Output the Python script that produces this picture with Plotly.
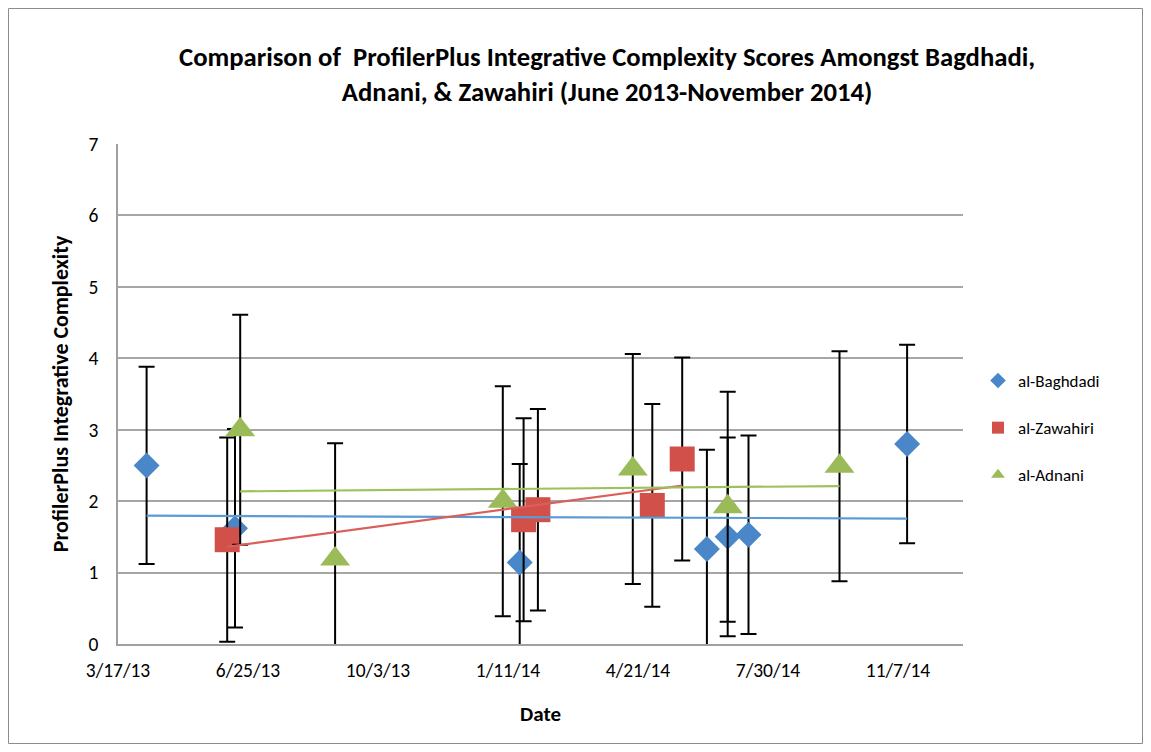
import numpy as np
import pandas as pd
import plotly.graph_objects as go

# ---- data ----
baghdadi_dates = ["2013-04-08", "2013-06-15", "2014-01-20", "2014-06-13", "2014-06-29", "2014-07-15", "2014-11-14"]
baghdadi_vals = [2.50, 1.62, 1.14, 1.33, 1.50, 1.53, 2.80]
baghdadi_err = [1.38, 1.39, 1.38, 1.39, 1.39, 1.39, 1.39]

zawahiri_dates = ["2013-06-09", "2014-01-23", "2014-02-03", "2014-05-02", "2014-05-25"]
zawahiri_vals = [1.46, 1.74, 1.88, 1.94, 2.59]
zawahiri_err = [1.43, 1.42, 1.41, 1.42, 1.42]

adnani_dates = ["2013-06-19", "2013-08-31", "2014-01-07", "2014-04-17", "2014-06-29", "2014-09-23"]
adnani_vals = [3.00, 1.19, 2.00, 2.45, 1.92, 2.49]
adnani_err = [1.61, 1.62, 1.61, 1.61, 1.61, 1.61]

x_tick_dates = ["2013-03-17", "2013-06-25", "2013-10-03", "2014-01-11", "2014-04-21", "2014-07-30", "2014-11-07"]
x_tick_labels = ["3/17/13", "6/25/13", "10/3/13", "1/11/14", "4/21/14", "7/30/14", "11/7/14"]
x_range = ["2013-03-17", "2014-12-27"]

FONT = "Carlito, Lato, sans-serif"

series = [
    ("al-Baghdadi", baghdadi_dates, baghdadi_vals, baghdadi_err, "diamond", 20, "#4A87C8", "#5B9BD5"),
    ("al-Zawahiri", zawahiri_dates, zawahiri_vals, zawahiri_err, "square", 25, "#D2504A", "#D9605A"),
    ("al-Adnani", adnani_dates, adnani_vals, adnani_err, "triangle-up", 26, "#9BBB59", "#9DC25C"),
]

fig = go.Figure()

for name, d, v, e, sym, size, col, tcol in series:
    fig.add_trace(go.Scatter(
        x=d, y=v, mode="markers", name=name, legendgroup=name,
        marker=dict(symbol=sym, size=size, color=col, line=dict(width=0)),
        error_y=dict(type="data", array=e, visible=True, color="black", thickness=2, width=8),
    ))

# linear trendlines (least squares, like Excel's linear trendline)
for name, d, v, e, sym, size, col, tcol in series:
    dt = pd.to_datetime(pd.Series(d))
    days = (dt - dt.min()).dt.days.to_numpy(dtype=float)
    slope, icpt = np.polyfit(days, np.array(v), 1)
    xs = [dt.min(), dt.max()]
    ys = [icpt + slope * days.min(), icpt + slope * days.max()]
    fig.add_trace(go.Scatter(
        x=xs, y=ys, mode="lines", showlegend=False, hoverinfo="skip",
        line=dict(color=tcol, width=2.2),
    ))

# page coordinates of the plot area (the page body has an 8px margin)
OFF = 8
W, H = 1151 - 2 * OFF, 752 - 2 * OFF
L, R, T, B = 118 - OFF, 963 - OFF, 144 - OFF, 644 - OFF
pw, ph = R - L, B - T

def px(xpage):
    return (xpage - OFF - L) / pw

def py(ypage):
    return (B - (ypage - OFF)) / ph

fig.update_layout(
    width=W, height=H,
    margin=dict(l=L, r=W - R, t=T, b=H - B, pad=0),
    paper_bgcolor="white", plot_bgcolor="white",
    font=dict(family=FONT, color="black", size=19),
    showlegend=True,
    legend=dict(x=px(978), y=py(428), xanchor="left", yanchor="middle",
                font=dict(family=FONT, size=17, color="black"),
                itemsizing="constant", tracegroupgap=22, traceorder="grouped",
                itemwidth=30, bgcolor="rgba(0,0,0,0)"),
    xaxis=dict(type="date", range=x_range, tickvals=x_tick_dates, ticktext=x_tick_labels,
               showgrid=False, showline=True, linecolor="#A0A0A0", linewidth=1.5,
               zeroline=False, ticks="", tickfont=dict(family=FONT, size=19.5, color="black"),
               ticklabelstandoff=8,
               title=dict(text="<b>Date</b>", font=dict(family=FONT, size=21, color="black"), standoff=25)),
    yaxis=dict(range=[0, 7], dtick=1, tick0=0, showgrid=True, gridcolor="#A6A6A6", gridwidth=1.5,
               showline=True, linecolor="#A0A0A0", linewidth=1.5, zeroline=False, ticks="",
               tickfont=dict(family=FONT, size=19.5, color="black"), ticklabelstandoff=14,
               title=dict(text="<b>ProfilerPlus Integrative Complexity</b>",
                          font=dict(family=FONT, size=22, color="black"), standoff=14)),
    annotations=[
        dict(text="<b>Comparison of  ProfilerPlus Integrative Complexity Scores Amongst Bagdhadi,</b><br><b>Adnani, &amp; Zawahiri (June 2013-November 2014)</b>",
             x=px(607), y=py(74), xref="paper", yref="paper", xanchor="center", yanchor="middle",
             showarrow=False, align="center", font=dict(family=FONT, size=26.7, color="black")),
    ],
    shapes=[
        dict(type="rect", xref="paper", yref="paper",
             x0=(0.5 - L) / pw, x1=(W - 0.5 - L) / pw, y0=(B - (H - 0.5)) / ph, y1=(B - 0.5) / ph,
             line=dict(color="#8C8C8C", width=1), fillcolor="rgba(0,0,0,0)", layer="below"),
    ],
)

fig.write_html("out.html")
